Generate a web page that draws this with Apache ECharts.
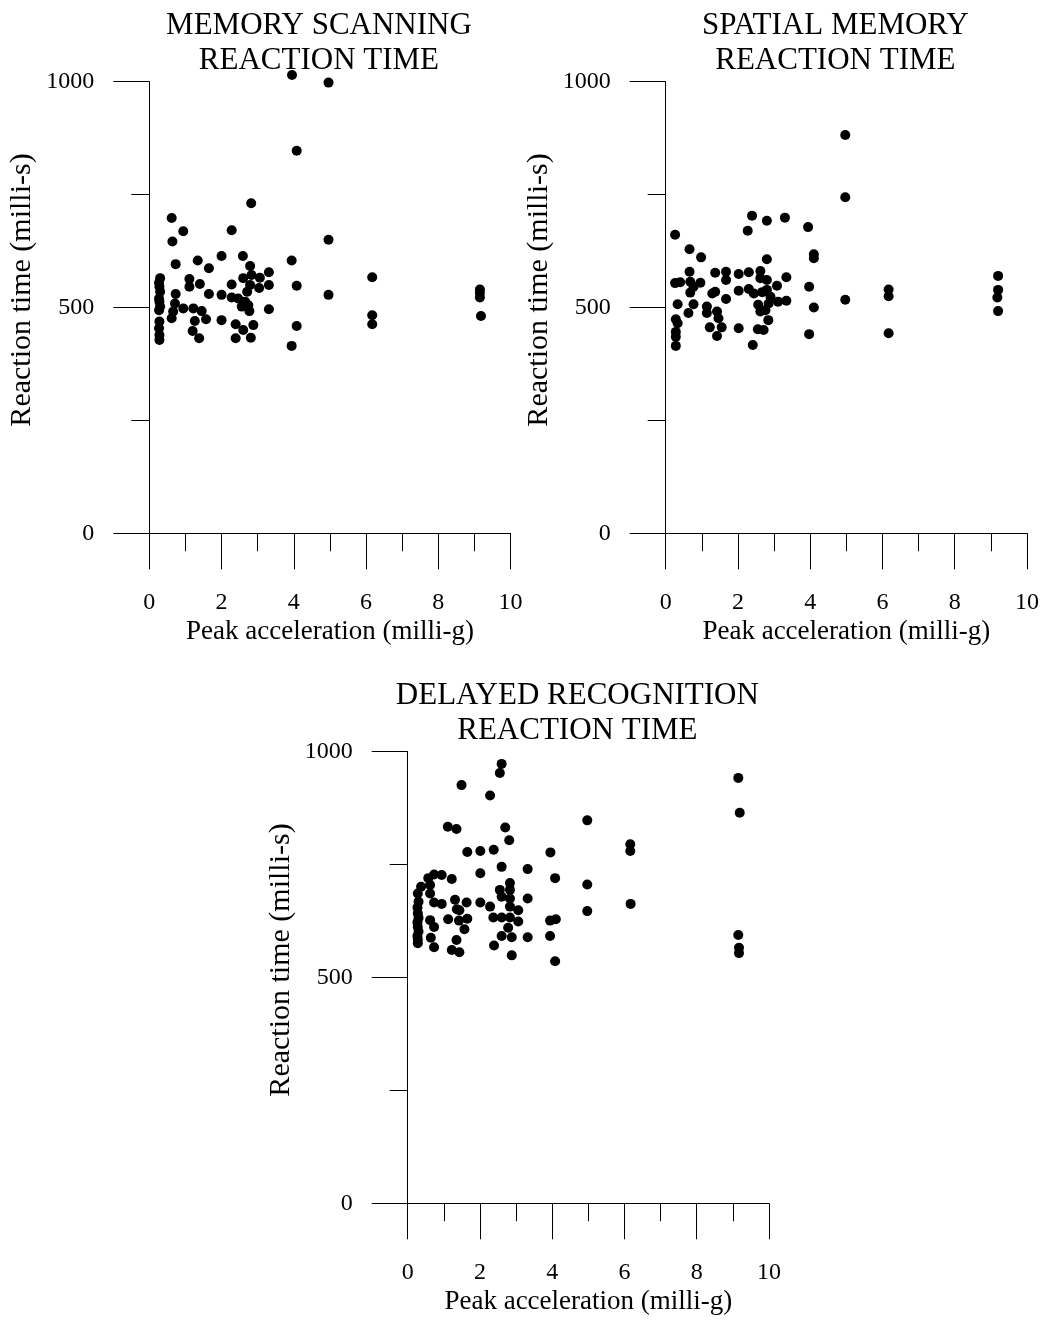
<!DOCTYPE html>
<html>
<head>
<meta charset="utf-8">
<script src="https://cdn.jsdelivr.net/npm/echarts@6/dist/echarts.min.js"></script>
<style>
  html, body { margin: 0; padding: 0; background: #ffffff; }
  #chart { width: 1045px; height: 1322px; }
</style>
</head>
<body>
<div id="chart"></div>
<script>
// Reaction time (milli-s) against peak acceleration (milli-g), one array per test.
const memoryScanning = [
  [0.30,565],[0.27,555],[0.28,546],[0.30,535],[0.27,520],[0.28,513],[0.30,502],[0.27,494],
  [0.28,469],[0.27,454],[0.28,439],[0.28,428],
  [0.62,698],[0.94,669],[0.64,646],[0.73,596],[1.34,604],[1.65,587],[2.00,614],[2.28,671],
  [2.59,614],[2.82,731],[2.79,592],[3.31,578],[2.83,572],[3.06,566],[2.60,565],[3.31,550],
  [3.04,543],[2.79,550],[2.71,535],[2.28,551],[1.11,563],[1.11,546],[1.40,552],[0.73,530],
  [1.65,530],[2.00,528],[2.28,522],[2.46,520],[2.65,513],[2.56,502],[2.74,505],[2.77,492],
  [3.31,496],[0.71,509],[0.94,498],[0.66,491],[0.62,476],[1.22,498],[1.45,492],[1.26,470],
  [1.57,474],[2.00,472],[1.20,448],[1.38,432],[2.39,463],[2.60,450],[2.88,461],[2.39,432],
  [2.81,433],
  [3.95,1015],[4.96,998],[4.08,847],[4.96,650],[3.94,604],[4.08,548],[4.96,528],[4.08,459],
  [3.94,415],[6.17,567],[6.17,483],[6.17,463],[9.15,540],[9.15,532],[9.15,522],[9.18,481]
];

const spatialMemory = [
  [0.26,661],[0.66,629],[0.98,611],[2.39,703],[2.27,670],[2.80,692],[3.30,699],[3.94,678],
  [4.97,882],[4.97,744],[4.97,517],[4.10,618],[4.10,609],[2.80,607],[0.66,579],[1.37,577],
  [1.67,579],[1.67,561],[2.02,574],[2.30,578],[2.62,581],[2.62,565],[2.80,561],[3.34,567],
  [0.26,554],[0.40,556],[0.68,557],[0.96,555],[0.77,546],[0.68,533],[1.29,531],[1.37,535],
  [1.67,519],[2.02,537],[2.30,541],[2.44,531],[2.67,534],[2.80,539],[2.90,524],[3.08,548],
  [3.34,515],[3.11,513],[3.97,546],[4.10,500],[3.97,441],[0.33,507],[0.77,507],[0.63,488],
  [1.14,502],[1.14,488],[1.42,491],[1.46,476],[1.22,456],[1.55,456],[1.42,437],[2.02,454],
  [2.56,506],[2.62,491],[2.76,494],[2.85,509],[2.84,472],[2.55,452],[2.71,450],[2.41,417],
  [0.28,474],[0.33,465],[0.28,446],[0.28,435],[0.28,415],
  [6.17,540],[6.17,525],[6.17,443],[9.20,570],[9.20,539],[9.18,522],[9.20,492]
];

const delayedRecognition = [
  [0.28,686],[0.30,668],[0.27,655],[0.28,642],[0.30,632],[0.27,622],[0.28,612],[0.30,602],
  [0.27,592],[0.28,584],[0.28,576],
  [0.37,701],[0.57,720],[0.62,705],[0.62,686],[0.73,728],[0.94,727],[1.22,718],[0.73,666],
  [0.94,663],[1.31,672],[1.63,666],[1.36,651],[1.43,649],[1.12,629],[1.42,626],[1.65,630],
  [1.57,607],[1.35,583],[1.22,561],[1.43,556],[0.73,567],[0.64,588],[0.62,627],[0.73,612],
  [1.49,926],[1.11,834],[1.35,829],[1.65,778],[2.01,780],[2.38,783],[2.01,731],[2.01,666],
  [2.28,657],[2.28,903],[2.60,973],[2.55,953],[2.70,832],[2.81,804],[2.60,745],[2.55,694],
  [2.60,679],[2.83,709],[2.83,694],[2.83,675],[2.83,657],[3.06,649],[3.06,624],[3.32,740],
  [3.32,675],[3.32,589],[2.37,633],[2.60,633],[2.83,633],[2.78,610],[2.60,592],[2.88,589],
  [2.39,571],[2.88,549],
  [3.95,777],[4.08,720],[3.94,626],[4.10,629],[3.94,592],[4.08,536],
  [4.97,848],[4.97,706],[4.97,647],
  [6.16,795],[6.16,780],[6.17,663],
  [9.15,942],[9.19,865],[9.15,594],[9.17,566],[9.17,554]
];

const panelTitles = [
  'MEMORY SCANNING\nREACTION TIME',
  'SPATIAL MEMORY\nREACTION TIME',
  'DELAYED RECOGNITION\nREACTION TIME'
];
const xAxisTitle = 'Peak acceleration (milli-g)';
const yAxisTitle = 'Reaction time (milli-s)';
const xRange = { min: 0, max: 10, step: 2 };
const yRange = { min: 0, max: 1000, step: 500 };

// Plot-area boxes (pixels) for the three panels.
const panels = [
  { left: 149.3, top: 81.7, width: 361.3, height: 451.6, data: memoryScanning },
  { left: 665.7, top: 81.7, width: 361.3, height: 451.6, data: spatialMemory },
  { left: 407.7, top: 751.7, width: 361.3, height: 451.6, data: delayedRecognition }
];

const FONT = "'Liberation Serif', 'Times New Roman', serif";
const INK = '#000000';
const plainNumber = v => String(v);

const grid = [], xAxis = [], yAxis = [], series = [], graphic = [];

panels.forEach((p, i) => {
  grid.push({ left: p.left, top: p.top, width: p.width, height: p.height, containLabel: false });

  xAxis.push({
    type: 'value', gridIndex: i,
    min: xRange.min, max: xRange.max, interval: xRange.step,
    axisLine: { show: true, onZero: false, lineStyle: { color: INK, width: 1 } },
    axisTick: { show: true, inside: false, length: 36, lineStyle: { color: INK, width: 1 } },
    minorTick: { show: true, splitNumber: 2, length: 18, lineStyle: { color: INK, width: 1 } },
    axisLabel: { show: true, margin: 57, color: INK, fontFamily: FONT, fontSize: 24, formatter: plainNumber },
    splitLine: { show: false },
    minorSplitLine: { show: false }
  });

  yAxis.push({
    type: 'value', gridIndex: i,
    min: yRange.min, max: yRange.max, interval: yRange.step,
    axisLine: { show: true, onZero: false, lineStyle: { color: INK, width: 1 } },
    axisTick: { show: true, inside: false, length: 36, lineStyle: { color: INK, width: 1 } },
    minorTick: { show: true, splitNumber: 2, length: 18, lineStyle: { color: INK, width: 1 } },
    axisLabel: { show: true, margin: 55, color: INK, fontFamily: FONT, fontSize: 24, formatter: plainNumber },
    splitLine: { show: false },
    minorSplitLine: { show: false }
  });

  series.push({
    type: 'scatter', xAxisIndex: i, yAxisIndex: i,
    data: p.data,
    symbol: 'circle', symbolSize: 10,
    clip: false,
    itemStyle: { color: INK, opacity: 1 },
    emphasis: { disabled: true },
    silent: true
  });

  const cx = p.left + p.width / 2;

  // Two-line panel heading
  graphic.push({
    type: 'text', x: cx - 11, y: p.top - 38, silent: true,
    style: {
      text: panelTitles[i], font: '31px ' + FONT, fill: INK,
      align: 'center', verticalAlign: 'middle',
      textAlign: 'center', textVerticalAlign: 'middle', lineHeight: 35
    }
  });

  // Horizontal axis caption
  graphic.push({
    type: 'text', x: cx, y: p.top + p.height + 99, silent: true,
    style: {
      text: xAxisTitle, font: '27px ' + FONT, fill: INK,
      align: 'center', verticalAlign: 'middle',
      textAlign: 'center', textVerticalAlign: 'middle'
    }
  });

  // Vertical axis caption
  graphic.push({
    type: 'text', x: p.left - 127, y: p.top + 208.3, rotation: Math.PI / 2, silent: true,
    style: {
      text: yAxisTitle, font: '30px ' + FONT, fill: INK,
      align: 'center', verticalAlign: 'middle',
      textAlign: 'center', textVerticalAlign: 'middle'
    }
  });
});

const chart = echarts.init(document.getElementById('chart'), null, { renderer: 'canvas' });
chart.setOption({
  animation: false,
  backgroundColor: '#ffffff',
  grid, xAxis, yAxis, series, graphic
});
</script>
</body>
</html>
